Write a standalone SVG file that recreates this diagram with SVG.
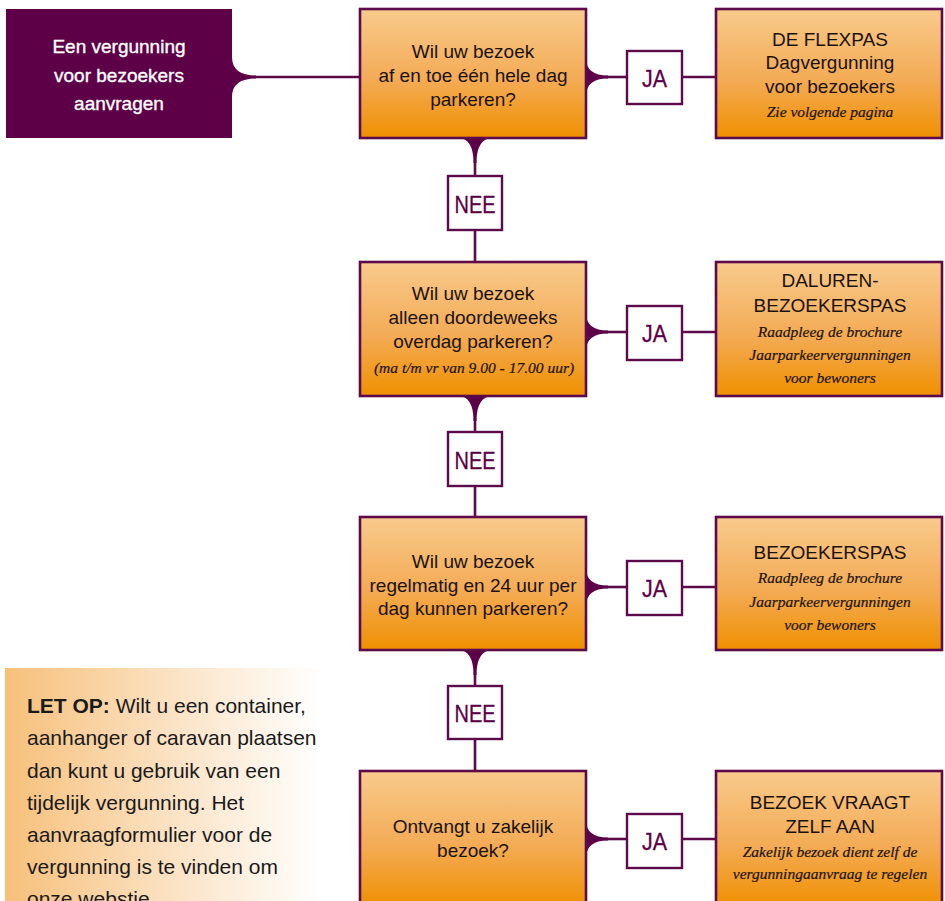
<svg xmlns="http://www.w3.org/2000/svg" width="945" height="901" viewBox="0 0 945 901">
<defs>
  <linearGradient id="orange" x1="0" y1="0" x2="0" y2="1">
    <stop offset="0" stop-color="#f8ca8c"/>
    <stop offset="0.55" stop-color="#f3ab55"/>
    <stop offset="1" stop-color="#ef9000"/>
  </linearGradient>
  <linearGradient id="note" x1="0" y1="0" x2="1" y2="0">
    <stop offset="0" stop-color="#f6c07a"/>
    <stop offset="0.5" stop-color="#fbe0c0"/>
    <stop offset="1" stop-color="#ffffff"/>
  </linearGradient>
  <style>
    .box { fill: url(#orange); stroke: #5c0a4a; stroke-width: 2.6; }
    .lbl { fill: #ffffff; stroke: #5c0a4a; stroke-width: 2.4; }
    .line { stroke: #5c0a4a; stroke-width: 2.6; fill: none; }
    .flare { fill: #5c0048; }
    .q { font-family: "Liberation Sans", Arial, sans-serif; font-size: 19px; fill: #1c120a; text-anchor: middle; }
    .t { font-family: "Liberation Sans", Arial, sans-serif; font-size: 19px; fill: #1c120a; text-anchor: middle; }
    .it { font-family: "Liberation Serif", "Times New Roman", serif; font-style: italic; font-size: 15.5px; fill: #1c120a; stroke: #1c120a; stroke-width: 0.2; text-anchor: middle; }
    .ja { font-family: "Liberation Sans", Arial, sans-serif; font-size: 24px; fill: #5c0048; stroke: #5c0048; stroke-width: 0.3; text-anchor: middle; }
    .start { font-family: "Liberation Sans", Arial, sans-serif; font-size: 19px; fill: #ffffff; stroke: #ffffff; stroke-width: 0.35; text-anchor: middle; }
    .nt { font-family: "Liberation Sans", Arial, sans-serif; font-size: 21px; fill: #1a1a1a; }
  </style>
</defs>

<g id="note-box">
  <rect x="5" y="668" width="315" height="233" fill="url(#note)"/>
  <text class="nt" x="27" y="713"><tspan font-weight="bold">LET OP:</tspan> Wilt u een container,</text>
  <text class="nt" x="27" y="745">aanhanger of caravan plaatsen</text>
  <text class="nt" x="27" y="778">dan kunt u gebruik van een</text>
  <text class="nt" x="27" y="810">tijdelijk vergunning. Het</text>
  <text class="nt" x="27" y="842">aanvraagformulier voor de</text>
  <text class="nt" x="27" y="874">vergunning is te vinden om</text>
  <text class="nt" x="27" y="906">onze webstie.</text>
</g>

<g id="connectors">
  <path class="flare" d="M232 57 Q232 75.5 256 75.5 L256 78.5 Q232 78.5 232 97 Z"/>
  <line class="line" x1="254" y1="77" x2="360" y2="77"/>
  <path class="flare" d="M586 58 Q586 75.5 608 75.5 L608 78.5 Q586 78.5 586 96 Z"/>
  <line class="line" x1="606" y1="77" x2="627" y2="77"/>
  <line class="line" x1="682" y1="77" x2="716" y2="77"/>
  <path class="flare" d="M458 138 Q473.5 138 473.5 163 L476.5 163 Q476.5 138 493 138 Z"/>
  <line class="line" x1="475" y1="160" x2="475" y2="176"/>
  <line class="line" x1="475" y1="230" x2="475" y2="262"/>
  <path class="flare" d="M586 313 Q586 330.5 608 330.5 L608 333.5 Q586 333.5 586 351 Z"/>
  <line class="line" x1="606" y1="332" x2="627" y2="332"/>
  <line class="line" x1="682" y1="332" x2="716" y2="332"/>
  <path class="flare" d="M458 396 Q473.5 396 473.5 421 L476.5 421 Q476.5 396 493 396 Z"/>
  <line class="line" x1="475" y1="418" x2="475" y2="432"/>
  <line class="line" x1="475" y1="486" x2="475" y2="517"/>
  <path class="flare" d="M586 568 Q586 585.5 608 585.5 L608 588.5 Q586 588.5 586 606 Z"/>
  <line class="line" x1="606" y1="587" x2="627" y2="587"/>
  <line class="line" x1="682" y1="587" x2="716" y2="587"/>
  <path class="flare" d="M458 650 Q473.5 650 473.5 675 L476.5 675 Q476.5 650 493 650 Z"/>
  <line class="line" x1="475" y1="672" x2="475" y2="686"/>
  <line class="line" x1="475" y1="739" x2="475" y2="771"/>
  <path class="flare" d="M586 820 Q586 837.5 608 837.5 L608 840.5 Q586 840.5 586 858 Z"/>
  <line class="line" x1="606" y1="839" x2="627" y2="839"/>
  <line class="line" x1="682" y1="839" x2="716" y2="839"/>
</g>

<g id="start">
  <rect x="6" y="9" width="226" height="129" fill="#5e0048"/>
  <text class="start" x="119" y="53">Een vergunning</text>
  <text class="start" x="119" y="82">voor bezoekers</text>
  <text class="start" x="119" y="110">aanvragen</text>
</g>

<g id="q1">
  <rect class="box" x="360" y="9" width="226" height="129"/>
  <text class="q" x="473" y="58">Wil uw bezoek</text>
  <text class="q" x="473" y="82">af en toe één hele dag</text>
  <text class="q" x="473" y="106">parkeren?</text>
</g>
<g id="ja1">
  <rect class="lbl" x="627" y="51" width="55" height="53"/>
  <text class="ja" x="654.5" y="87" textLength="25" lengthAdjust="spacingAndGlyphs">JA</text>
</g>
<g id="r1">
  <rect class="box" x="716" y="9" width="226" height="129"/>
  <text class="t" x="830" y="46">DE FLEXPAS</text>
  <text class="t" x="830" y="69">Dagvergunning</text>
  <text class="t" x="830" y="93">voor bezoekers</text>
  <text class="it" x="830" y="117">Zie volgende pagina</text>
</g>
<g id="nee1">
  <rect class="lbl" x="448" y="176" width="54" height="54"/>
  <text class="ja" x="475" y="213" textLength="41" lengthAdjust="spacingAndGlyphs">NEE</text>
</g>

<g id="q2">
  <rect class="box" x="360" y="262" width="226" height="134"/>
  <text class="q" x="473" y="300">Wil uw bezoek</text>
  <text class="q" x="473" y="324">alleen doordeweeks</text>
  <text class="q" x="473" y="348">overdag parkeren?</text>
  <text class="it" x="474" y="373">(ma t/m vr van 9.00 - 17.00 uur)</text>
</g>
<g id="ja2">
  <rect class="lbl" x="627" y="306" width="55" height="54"/>
  <text class="ja" x="654.5" y="342" textLength="25" lengthAdjust="spacingAndGlyphs">JA</text>
</g>
<g id="r2">
  <rect class="box" x="716" y="262" width="226" height="134"/>
  <text class="t" x="830" y="287">DALUREN-</text>
  <text class="t" x="830" y="312">BEZOEKERSPAS</text>
  <text class="it" x="830" y="337">Raadpleeg de brochure</text>
  <text class="it" x="830" y="360">Jaarparkeervergunningen</text>
  <text class="it" x="830" y="383">voor bewoners</text>
</g>
<g id="nee2">
  <rect class="lbl" x="448" y="432" width="54" height="54"/>
  <text class="ja" x="475" y="469" textLength="41" lengthAdjust="spacingAndGlyphs">NEE</text>
</g>

<g id="q3">
  <rect class="box" x="360" y="517" width="226" height="133"/>
  <text class="q" x="473" y="568">Wil uw bezoek</text>
  <text class="q" x="473" y="592">regelmatig en 24 uur per</text>
  <text class="q" x="473" y="615">dag kunnen parkeren?</text>
</g>
<g id="ja3">
  <rect class="lbl" x="627" y="561" width="55" height="54"/>
  <text class="ja" x="654.5" y="597" textLength="25" lengthAdjust="spacingAndGlyphs">JA</text>
</g>
<g id="r3">
  <rect class="box" x="716" y="517" width="226" height="133"/>
  <text class="t" x="830" y="559">BEZOEKERSPAS</text>
  <text class="it" x="830" y="583">Raadpleeg de brochure</text>
  <text class="it" x="830" y="607">Jaarparkeervergunningen</text>
  <text class="it" x="830" y="630">voor bewoners</text>
</g>
<g id="nee3">
  <rect class="lbl" x="448" y="686" width="54" height="53"/>
  <text class="ja" x="475" y="722" textLength="41" lengthAdjust="spacingAndGlyphs">NEE</text>
</g>

<g id="q4">
  <rect class="box" x="360" y="771" width="226" height="136"/>
  <text class="q" x="473" y="833">Ontvangt u zakelijk</text>
  <text class="q" x="473" y="857">bezoek?</text>
</g>
<g id="ja4">
  <rect class="lbl" x="627" y="814" width="55" height="54"/>
  <text class="ja" x="654.5" y="850" textLength="25" lengthAdjust="spacingAndGlyphs">JA</text>
</g>
<g id="r4">
  <rect class="box" x="716" y="771" width="226" height="136"/>
  <text class="t" x="830" y="809">BEZOEK VRAAGT</text>
  <text class="t" x="830" y="833">ZELF AAN</text>
  <text class="it" x="830" y="857">Zakelijk bezoek dient zelf de</text>
  <text class="it" x="830" y="879">vergunningaanvraag te regelen</text>
</g>
</svg>
